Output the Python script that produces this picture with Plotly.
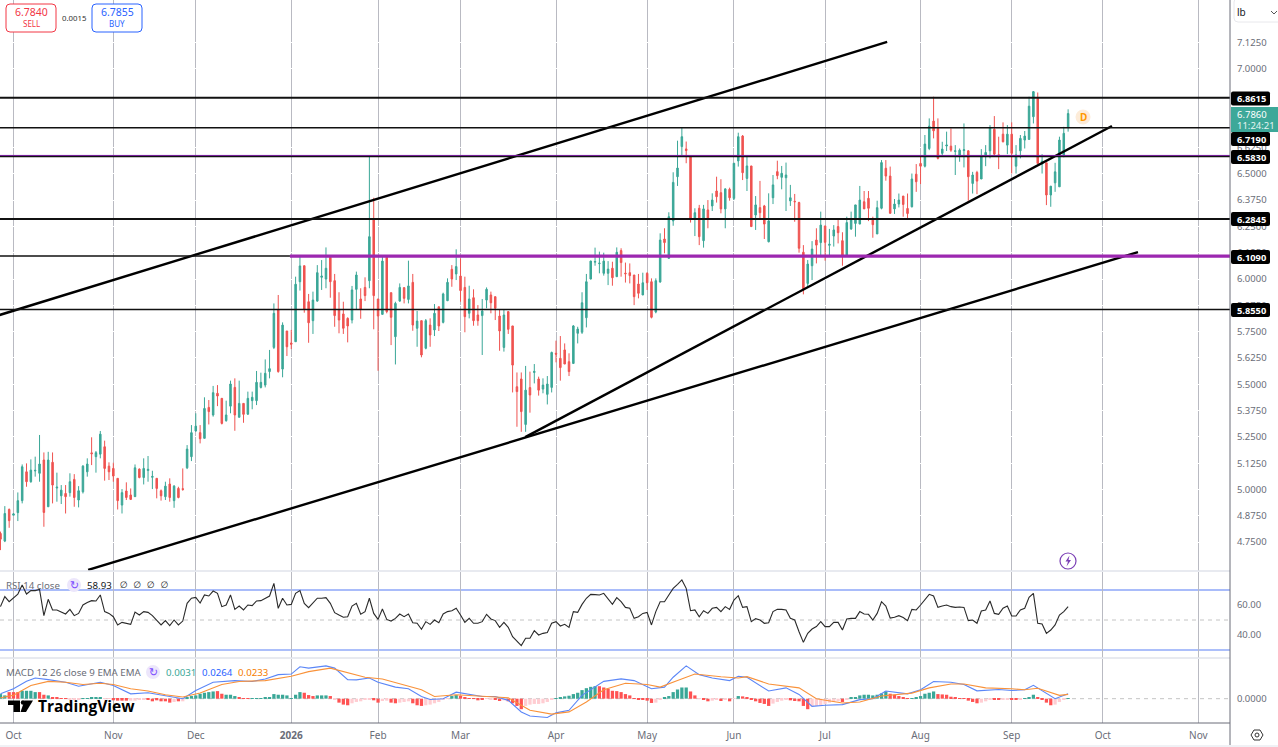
import plotly.graph_objects as go
from plotly.subplots import make_subplots

# ---------- data (daily bars) ----------
bar_index = list(range(-3, 244))
opens = [4.791,4.755,4.905,4.878,4.890,4.947,5.084,5.037,5.088,5.077,
5.140,4.918,5.129,5.007,4.970,4.981,4.985,5.048,4.950,4.989,
5.084,5.174,5.156,5.168,5.203,5.111,5.100,5.053,4.926,4.993,
4.974,4.966,5.097,5.057,5.090,5.058,5.053,4.994,4.966,5.026,
4.947,5.005,5.004,5.103,5.156,5.278,5.270,5.243,5.390,5.354,
5.457,5.433,5.327,5.396,5.485,5.343,5.409,5.358,5.422,5.422,
5.485,5.496,5.560,5.675,5.853,5.572,5.753,5.696,5.702,5.987,
6.063,5.892,5.802,5.895,6.008,6.000,6.103,5.992,5.853,5.834,
5.813,5.805,5.951,5.905,5.960,5.992,6.283,5.905,5.832,6.103,
5.935,5.726,5.895,5.959,5.903,5.984,5.766,5.802,5.671,5.781,
5.758,5.868,5.794,5.897,6.046,6.024,6.014,5.960,5.837,5.911,
5.829,5.826,5.900,5.924,5.916,5.824,5.675,5.845,5.777,5.488,
5.525,5.309,5.484,5.556,5.525,5.477,5.452,5.485,5.647,5.623,
5.663,5.607,5.599,5.742,5.747,5.816,6.000,6.080,6.073,6.027,
6.027,6.051,6.011,6.135,6.028,6.030,6.019,5.976,5.924,6.027,
5.987,5.843,5.986,6.190,6.098,6.276,6.486,6.629,6.618,6.581,
6.288,6.336,6.182,6.328,6.347,6.418,6.410,6.333,6.426,6.383,
6.561,6.679,6.478,6.537,6.304,6.339,6.347,6.177,6.386,6.510,
6.483,6.481,6.371,6.369,6.363,6.127,5.979,6.063,6.185,6.173,
6.252,6.160,6.204,6.249,6.182,6.114,6.238,6.264,6.261,6.367,
6.383,6.283,6.214,6.336,6.526,6.489,6.333,6.356,6.394,6.335,
6.343,6.498,6.549,6.536,6.620,6.750,6.715,6.597,6.632,6.631,
6.606,6.589,6.610,6.609,6.454,6.506,6.475,6.581,6.609,6.711,
6.590,6.688,6.636,6.688,6.536,6.609,6.660,6.663,6.771,6.858,
6.546,6.552,6.399,6.457,6.438,6.584,6.720]
highs = [4.800,4.921,4.910,4.888,4.986,5.119,5.124,5.143,5.156,5.259,
5.176,5.179,5.176,5.080,5.021,5.021,5.077,5.073,5.016,5.116,
5.148,5.248,5.183,5.278,5.232,5.129,5.127,5.053,5.002,5.034,
5.005,5.119,5.100,5.148,5.159,5.089,5.053,5.000,5.037,5.053,
5.021,5.013,5.100,5.211,5.306,5.362,5.306,5.438,5.425,5.492,
5.496,5.433,5.422,5.517,5.528,5.517,5.409,5.465,5.465,5.563,
5.555,5.618,5.663,5.884,5.924,5.794,5.753,5.758,6.011,6.106,
6.063,5.929,5.940,6.066,6.090,6.150,6.103,6.024,5.937,5.892,
5.818,5.967,6.035,5.956,6.008,6.581,6.386,5.905,6.106,6.106,
5.935,5.892,5.979,5.960,6.087,6.024,5.848,5.802,5.810,5.813,
5.881,5.868,5.935,6.003,6.066,6.141,6.098,6.011,5.968,5.951,
5.876,5.905,5.960,5.940,5.916,5.853,5.853,5.845,5.777,5.556,
5.556,5.587,5.560,5.596,5.536,5.528,5.539,5.655,5.707,5.729,
5.694,5.647,5.781,5.773,5.937,6.024,6.087,6.149,6.130,6.125,
6.085,6.082,6.150,6.146,6.078,6.074,6.019,6.024,6.030,6.032,
6.003,6.003,6.217,6.241,6.317,6.507,6.657,6.719,6.653,6.581,
6.336,6.352,6.352,6.375,6.407,6.486,6.474,6.431,6.434,6.550,
6.695,6.684,6.581,6.537,6.394,6.466,6.352,6.407,6.494,6.562,
6.537,6.553,6.447,6.404,6.367,6.161,6.090,6.180,6.241,6.320,
6.252,6.238,6.256,6.288,6.222,6.296,6.320,6.352,6.442,6.418,
6.418,6.296,6.372,6.565,6.565,6.534,6.380,6.406,6.394,6.406,
6.501,6.546,6.581,6.684,6.763,6.866,6.763,6.652,6.700,6.715,
6.636,6.620,6.739,6.612,6.509,6.514,6.617,6.636,6.731,6.774,
6.676,6.744,6.731,6.744,6.636,6.684,6.703,6.866,6.893,6.886,
6.593,6.552,6.441,6.552,6.676,6.723,6.806]
lows = [4.712,4.750,4.818,4.876,4.850,4.934,5.013,5.032,5.061,5.037,
4.823,4.918,4.934,4.942,4.931,4.886,4.966,4.918,4.915,4.981,
5.061,5.116,5.080,5.148,5.042,5.045,5.037,4.905,4.886,4.950,
4.950,4.966,5.053,5.024,5.037,5.002,4.958,4.947,4.950,4.942,
4.913,4.958,4.994,5.097,5.135,5.275,5.219,5.243,5.309,5.346,
5.396,5.309,5.322,5.362,5.279,5.343,5.317,5.354,5.381,5.401,
5.480,5.485,5.528,5.667,5.555,5.533,5.634,5.667,5.702,5.945,
5.840,5.697,5.739,5.892,5.948,5.956,5.911,5.773,5.742,5.739,
5.699,5.789,5.853,5.811,5.895,5.956,5.761,5.564,5.832,5.837,
5.686,5.594,5.892,5.884,5.884,5.754,5.678,5.628,5.666,5.678,
5.729,5.753,5.789,5.895,5.963,5.995,5.892,5.747,5.813,5.778,
5.778,5.639,5.861,5.837,5.805,5.659,5.655,5.739,5.461,5.298,
5.274,5.274,5.365,5.504,5.446,5.457,5.404,5.461,5.604,5.517,
5.596,5.539,5.596,5.694,5.739,5.770,5.998,6.063,6.027,6.016,
5.971,5.968,6.011,6.011,5.983,5.979,5.876,5.908,5.924,5.948,
5.813,5.837,5.982,6.122,6.098,6.253,6.442,6.589,6.550,6.268,
6.204,6.161,6.149,6.241,6.323,6.363,6.312,6.241,6.372,6.375,
6.534,6.470,6.418,6.249,6.233,6.288,6.190,6.174,6.356,6.474,
6.426,6.323,6.347,6.272,6.125,5.927,5.963,5.995,6.074,6.111,
6.087,6.114,6.154,6.169,6.063,6.114,6.233,6.201,6.261,6.333,
6.275,6.196,6.214,6.331,6.467,6.312,6.309,6.340,6.296,6.288,
6.340,6.414,6.451,6.530,6.612,6.668,6.568,6.585,6.608,6.604,
6.494,6.557,6.530,6.372,6.406,6.403,6.475,6.536,6.573,6.589,
6.522,6.649,6.593,6.501,6.501,6.573,6.620,6.663,6.739,6.549,
6.501,6.351,6.343,6.414,6.438,6.578,6.700]
closes = [4.764,4.886,4.852,4.884,4.947,5.108,5.037,5.092,5.091,5.121,
4.891,5.140,5.021,5.011,4.997,4.966,5.037,4.962,4.994,5.111,
5.121,5.170,5.175,5.263,5.100,5.084,5.064,4.947,4.985,4.962,
4.953,5.103,5.057,5.100,5.096,5.062,5.005,4.970,5.016,4.962,
5.016,4.962,5.000,5.192,5.270,5.301,5.241,5.385,5.370,5.460,
5.444,5.314,5.354,5.501,5.354,5.409,5.357,5.433,5.438,5.509,
5.509,5.552,5.574,5.837,5.560,5.781,5.678,5.690,5.975,6.062,
5.856,5.792,5.900,6.030,6.014,6.051,5.987,5.826,5.805,5.766,
5.777,5.948,6.019,5.857,5.921,6.201,5.921,5.824,6.085,5.845,
5.818,5.884,5.960,5.908,5.967,5.781,5.800,5.639,5.802,5.734,
5.837,5.777,5.929,5.984,6.000,6.059,5.945,5.821,5.905,5.802,
5.802,5.848,5.951,5.887,5.861,5.753,5.829,5.761,5.591,5.465,
5.370,5.472,5.449,5.561,5.472,5.496,5.501,5.651,5.643,5.579,
5.596,5.560,5.777,5.762,5.887,5.987,6.085,6.083,6.075,6.085,
6.047,6.006,6.127,6.078,6.025,6.016,5.916,5.932,5.982,5.982,
5.818,5.992,6.185,6.173,6.296,6.459,6.527,6.676,6.610,6.288,
6.315,6.201,6.333,6.288,6.375,6.391,6.333,6.428,6.386,6.550,
6.676,6.505,6.537,6.249,6.352,6.315,6.261,6.276,6.447,6.491,
6.502,6.494,6.386,6.367,6.146,5.948,6.071,6.142,6.161,6.256,
6.174,6.165,6.233,6.220,6.114,6.268,6.280,6.352,6.375,6.333,
6.336,6.258,6.339,6.553,6.489,6.312,6.356,6.375,6.354,6.311,
6.475,6.462,6.536,6.641,6.726,6.704,6.573,6.617,6.636,6.612,
6.609,6.612,6.614,6.486,6.494,6.465,6.581,6.601,6.720,6.593,
6.587,6.652,6.688,6.597,6.589,6.668,6.679,6.821,6.890,6.549,
6.560,6.399,6.441,6.509,6.660,6.692,6.786]
rsi = [58.9,65.6,62.2,64.5,67.3,73.3,67.3,69.6,69.6,70.4,
52.9,63.8,56.7,56.7,55.6,54.0,57.1,52.9,54.4,60.0,
61.6,62.9,62.7,66.7,55.6,54.4,52.2,46.7,48.4,47.8,
47.1,55.3,53.3,55.6,55.1,52.9,49.6,46.7,49.6,46.2,
50.0,46.7,49.3,61.1,64.5,65.1,61.3,66.7,66.0,69.3,
67.8,58.9,60.0,66.7,57.1,59.3,56.7,60.0,59.6,62.7,
62.9,64.5,66.0,74.4,57.8,64.5,60.0,60.4,67.8,69.6,
61.1,58.2,61.6,64.5,64.5,64.9,61.1,54.9,53.3,51.8,
52.2,59.3,61.1,53.8,55.6,64.5,54.4,50.4,57.3,50.4,
49.3,51.1,54.0,52.2,54.0,48.2,47.8,43.8,
48.9,47.1,50.0,48.2,54.0,55.6,56.2,57.8,53.3,48.4,
51.1,47.8,47.8,48.9,53.8,50.7,49.6,45.1,48.4,45.1,
38.9,35.6,32.9,37.8,37.8,42.9,40.0,41.1,41.6,47.8,
48.9,46.0,47.1,45.1,55.6,55.1,60.4,64.5,67.1,66.9,
66.7,67.8,63.8,60.4,64.9,62.2,58.4,57.8,51.1,52.2,
54.4,55.1,46.7,55.6,62.2,62.2,66.7,71.1,73.8,76.7,
71.1,56.2,56.7,52.2,56.2,54.4,57.8,58.4,55.6,58.9,
57.1,63.3,66.2,58.4,58.9,48.9,50.9,50.0,47.8,48.2,
55.6,57.1,57.1,56.7,51.1,50.0,42.2,35.1,41.1,44.0,
45.6,48.9,45.6,45.6,48.4,48.4,
43.3,50.7,51.1,51.1,55.6,54.0,53.8,50.0,54.4,62.2,
59.3,51.3,51.8,52.9,51.6,49.6,57.1,56.7,60.0,63.8,
67.1,66.0,58.4,59.3,60.0,58.9,58.4,58.7,58.4,49.6,
50.0,47.8,56.0,56.7,62.7,54.4,53.8,57.8,59.3,52.7,
52.7,56.7,57.8,65.1,67.8,47.8,47.3,41.1,43.3,46.7,
53.3,55.6,58.93]
macd_index = [-3,0,3,5,8,12,15,18,20,23,27,31,35,39,42,46,51,55,58,61,64,66,68,72,74,77,79,82,84,88,91,94,
96,99,102,105,108,111,114,117,119,123,125,128,131,136,140,143,147,150,152,155,158,161,165,167,169,174,178,181,184,187,191,
195,198,201,206,209,212,216,219,222,224,227,230,233,235,240,243]
macd_line = [.026,.053,.093,.111,.102,.088,.067,.079,.088,.071,.026,.032,.018,0,.044,.088,.097,.092,.106,.129,.132,.171,.164,.176,.164,.102,.101,.111,.088,.062,.053,.012,
-.004,0,.035,.023,.012,.012,-.009,-.071,-.093,-.101,-.076,-.062,.018,.093,.106,.097,.053,.062,.115,.176,.129,.111,.097,.120,.115,.041,.058,.023,-.041,-.035,-.032,
-.005,0,.041,.026,.048,.092,.088,.076,.042,.044,.049,.044,.048,.072,0,.0264]
signal_index = [-3,0,4,8,12,16,20,23,27,31,35,39,43,48,52,58,64,68,73,77,81,85,89,94,
97,102,107,114,119,124,128,132,136,141,146,149,153,157,163,167,169,174,181,185,191,
195,200,207,211,216,219,224,230,233,236,241,243]
signal_line = [.005,.018,.071,.093,.088,.076,.083,.076,.053,.041,.021,.009,.030,.076,.092,.097,.120,.145,.164,.141,.115,.106,.079,.048,
.012,.021,.014,.005,-.062,-.083,-.071,-.018,.048,.083,.076,.062,.097,.132,.118,.111,.118,.079,.058,0,-.023,
-.018,.014,.030,.058,.079,.079,.058,.053,.048,.056,.018,.0233]
hist = [.0247,.0176,.0353,.0353,.0353,.0423,.0423,.0423,.0353,.0353,
.0212,.0176,.0088,.0088,.0035,.0018,-.0035,-.0018,-.0035,.0018,
.0035,.0071,.0088,.0088,.0035,.0018,-.0088,-.0106,-.0106,-.0106,
-.0106,-.0106,-.0071,-.0053,-.0053,-.0141,-.0088,-.0141,-.0141,-.0212,
-.0176,-.0141,-.0141,.0053,.0141,.0176,.0265,.0318,.0353,.0388,
.0406,.0265,.0212,.0212,.0141,.0053,.0035,.0018,.0018,.0035,
.0035,.0053,.0071,.0247,.0212,.0212,.0176,.0035,.0212,.0353,
.0318,.0194,.0141,.0176,.0176,.0176,.0141,-.0035,-.0212,-.0318,
-.0353,-.0247,-.0176,-.0141,-.0071,-.0018,-.0088,-.0212,-.0123,-.0106,
-.0212,-.0247,-.0212,-.0176,-.0141,-.0247,-.0353,-.0388,-.0353,-.0318,
-.0247,-.0176,-.0071,.0035,.0141,.0194,.0159,.0053,.0035,.0018,
-.0088,-.0035,.0018,-.0018,-.0053,-.0123,-.0088,-.0141,-.0247,-.0388,
-.0564,-.0388,-.0318,-.0282,-.0282,-.0247,-.0176,-.0053,.0035,.0088,
.0123,.0159,.0247,.0318,.0459,.0564,.0635,.067,.067,.06,
.0529,.0423,.0406,.0353,.0247,.0176,.0035,-.0035,-.0071,-.0106,
-.0229,-.0212,-.0053,.0053,.0141,.0353,.0494,.06,.06,.0388,
.0176,.0035,-.0035,-.0141,-.0106,-.0053,-.0123,-.0071,-.0141,.0018,
.0141,.0123,.0071,-.0053,-.0141,-.0229,-.0282,-.0388,-.0265,-.0176,
-.0106,-.0018,-.0088,-.0123,-.0141,-.0388,-.0564,-.0423,-.0388,-.0353,
-.0282,-.0212,-.0176,-.0141,-.0176,-.0035,.0053,.0053,.0176,.0212,
.0212,.0176,.0212,.0282,.0388,.0265,.0212,.0141,.0071,.0035,
.0035,.0088,.0141,.0265,.0318,.0388,.0247,.0229,.0212,.0106,
.0071,.0035,.0018,-.0106,-.0176,-.0247,-.0212,-.0141,-.0053,-.0053,
-.0035,-.0018,-.0018,-.0053,-.0053,-.0018,.0018,.0088,.0212,.0053,
-.0071,-.0212,-.0353,-.0318,-.0176,-.0071,.0031]
hist_kind = ("ttrrrttttr" "rtrrrrpppt" "ttttpprrrr" "pppprrrrrr" "prpttttttt" "rrtttrrrtt" "tttttttttt"
             "rrrtttrprr" "rppppprrpp" "rrppprrrpp" "ppppttrrrr" "rrpprrprrr" "rppppppptt" "ttttttttrr"
             "rrrrrrrrrr" "rppttttttr" "rprrpprprp" "trrrrrrrpp" "pprrrrrppp" "pppprptttt" "tttttrrrrr"
             "ttttttrrrr" "rrrrrrpppr" "rpprrptttr" "rrrpppt")
assert all(len(s) == len(bar_index) for s in (opens, highs, lows, closes, rsi, hist, hist_kind))

month_index = [0, 23, 42, 64, 84, 103, 125, 146, 166, 187, 209, 230, 251, 273]
month_labels = ["Oct", "Nov", "Dec", "<b>2026</b>", "Feb", "Mar", "Apr", "May", "Jun", "Jul", "Aug", "Sep", "Oct", "Nov"]
price_ticks = [4.75, 4.875, 5.0, 5.125, 5.25, 5.375, 5.5, 5.625, 5.75, 5.875, 6.0, 6.125, 6.25, 6.375, 6.5, 6.625, 7.0, 7.125]
black_levels = [6.8615, 6.719, 6.583, 6.2845, 5.855]
purple_level = 6.109
level_split_index = 63.7
thin_purple_level = 6.587
trend_a_x, trend_a_y = [-3.2, 201.3], [5.829, 7.126]
trend_b_x, trend_b_y = [117.9, 253.1], [5.249, 6.727]
trend_c_x, trend_c_y = [17.2, 259.1], [4.618, 6.128]
rsi_upper, rsi_mid, rsi_lower = 70, 50, 30

# ---------- layout geometry ----------
W, H = 1278, 747
PW, PH = 1230, 723
X_RANGE = [-3.11, 280.3]
TEAL, RED, PINK = "#3aa797", "#ef5350", "#ffcdd2"
HIST_BAR = {"t": "#3aa797", "r": "#ff5252", "p": "#ffcdd2"}
GREY = "#6a6d78"
FONT = "Noto Sans"

def px(x): return x / PW
def py(y): return 1 - y / PH

fig = make_subplots(rows=3, cols=1, shared_xaxes=True, vertical_spacing=0)

fig.add_trace(go.Candlestick(x=bar_index, open=opens, high=highs, low=lows, close=closes,
    increasing=dict(line=dict(color=TEAL, width=1), fillcolor=TEAL),
    decreasing=dict(line=dict(color=RED, width=1), fillcolor=RED),
    whiskerwidth=0, hoverinfo="skip"), row=1, col=1)
for tx, ty in ((trend_a_x, trend_a_y), (trend_b_x, trend_b_y), (trend_c_x, trend_c_y)):
    fig.add_trace(go.Scatter(x=tx, y=ty, mode="lines", line=dict(color="#000000", width=2.4), hoverinfo="skip"), row=1, col=1)

fig.add_trace(go.Scatter(x=bar_index, y=rsi, mode="lines", line=dict(color="#2a2a2a", width=1.1), hoverinfo="skip"), row=2, col=1)

fig.add_trace(go.Bar(x=bar_index, y=hist, marker=dict(color=[HIST_BAR[k] for k in hist_kind], line_width=0), hoverinfo="skip"), row=3, col=1)
fig.add_trace(go.Scatter(x=macd_index, y=macd_line, mode="lines", line=dict(color="#5b86f7", width=1.1), hoverinfo="skip"), row=3, col=1)
fig.add_trace(go.Scatter(x=signal_index, y=signal_line, mode="lines", line=dict(color="#f9923a", width=1.1), hoverinfo="skip"), row=3, col=1)

shapes, annos = [], []

def hline(y, color, width, yref="y", x0=X_RANGE[0], x1=X_RANGE[1], dash=None, layer="above"):
    shapes.append(dict(type="line", xref="x", yref=yref, x0=x0, x1=x1, y0=y, y1=y, layer=layer,
                       line=dict(color=color, width=width, dash=dash)))

for lv, w in zip(black_levels, [2, 1.5, 2, 2, 1.5]):
    hline(lv, "#111111", w)
hline(thin_purple_level, "#7b1fa2", 1)
hline(purple_level, "#111111", 1.6, x1=level_split_index)
hline(purple_level, "#9c27b0", 3.2, x0=level_split_index)
hline(rsi_upper, "#a9bcfa", 2, yref="y2", layer="below")
hline(rsi_lower, "#5a80f6", 1.2, yref="y2", layer="below")
hline(rsi_mid, "#c4c4c4", 1, yref="y2", dash="4px,4px", layer="below")
hline(0, "#c4c4c4", 1, yref="y3", dash="4px,4px", layer="below")

def rect(x0, y0, x1, y1, fill, line=None, lw=0, r=0):
    a, b, c, d = x0, x1, y0, y1
    if r:
        p = (f"M {px(a+r)} {py(c)} L {px(b-r)} {py(c)} Q {px(b)} {py(c)} {px(b)} {py(c+r)} "
             f"L {px(b)} {py(d-r)} Q {px(b)} {py(d)} {px(b-r)} {py(d)} L {px(a+r)} {py(d)} "
             f"Q {px(a)} {py(d)} {px(a)} {py(d-r)} L {px(a)} {py(c+r)} Q {px(a)} {py(c)} {px(a+r)} {py(c)} Z")
    else:
        p = f"M {px(a)} {py(c)} L {px(b)} {py(c)} L {px(b)} {py(d)} L {px(a)} {py(d)} Z"
    shapes.append(dict(type="path", xref="paper", yref="paper", path=p, fillcolor=fill, layer="above",
                       line=dict(color=line or "rgba(0,0,0,0)", width=lw)))

def seg(x0, y0, x1, y1, color, w):
    shapes.append(dict(type="line", xref="paper", yref="paper", x0=px(x0), x1=px(x1), y0=py(y0), y1=py(y1),
                       layer="above", line=dict(color=color, width=w)))

def circle(cx, cy, r, fill, line=None, lw=0):
    shapes.append(dict(type="circle", xref="paper", yref="paper", x0=px(cx - r), x1=px(cx + r), y0=py(cy - r), y1=py(cy + r),
                       fillcolor=fill, layer="above", line=dict(color=line or "rgba(0,0,0,0)", width=lw)))

def poly(points, fill, line=None, lw=0):
    p = "M " + " L ".join(f"{px(a)} {py(b)}" for a, b in points) + " Z"
    shapes.append(dict(type="path", xref="paper", yref="paper", path=p, fillcolor=fill, layer="above",
                       line=dict(color=line or "rgba(0,0,0,0)", width=lw)))

def txt(x, y, s, size=10, color=GREY, anchor="left", family=FONT):
    annos.append(dict(xref="paper", yref="paper", x=px(x), y=py(y), text=s, showarrow=False, xanchor=anchor, yanchor="middle",
                      font=dict(size=size, color=color, family=family), borderpad=0, borderwidth=0))

# pane frames
seg(0, 571, PW, 571, "#e0e3eb", 1.5)
seg(0, 658, PW, 658, "#e0e3eb", 1.5)
seg(0, 723, PW, 723, "#6a6d78", 1)
seg(PW, 0, PW, 745, "#6a6d78", 1)
seg(0, 746, W, 746, "#e0e3eb", 1)

# trade buttons
rect(6, 4, 56, 32, "#ffffff", "#f23645", 1, 4)
rect(92, 4, 142, 32, "#ffffff", "#2962ff", 1, 4)
txt(31, 12, "6.7840", 10.5, "#f23645", "center")
txt(31, 23, "SELL", 8, "#f23645", "center")
txt(74, 18, "0.0015", 7.8, "#333333", "center")
txt(117, 12, "6.7855", 10.5, "#2962ff", "center")
txt(117, 23, "BUY", 8, "#2962ff", "center")

# price flags
for yc, label in [(98.5, "6.8615"), (139, "6.7190"), (157, "6.5830"), (219, "6.2845"), (257, "6.1090"), (310, "5.8550")]:
    rect(1231, yc - 7, 1270, yc + 7, "#000000", r=2)
    txt(1237, yc, f"<b>{label}</b>", 9.3, "#ffffff")
rect(1231, 107, 1278, 132, "#3da899")
txt(1237, 114, "6.7860", 9.5, "#ffffff")
txt(1237, 125, "11:24:21", 9.5, "#e4f4f1")

# top right unit
rect(1234, -2, 1290, 22, "#ffffff", "#e8e8ec", 1, 4)
txt(1237, 12, "lb", 10, "#131722")
shapes.append(dict(type="path", xref="paper", yref="paper", layer="above",
                   path=f"M {px(1271)} {py(11)} L {px(1274)} {py(14)} L {px(1277)} {py(11)}",
                   line=dict(color="#555555", width=1)))

# pane legends
txt(6, 585, "RSI 14 close", 9.7, GREY)
circle(74, 585, 7, "#ece6fb")
txt(74, 585, "↻", 11, "#7c4dff", "center", "DejaVu Sans")
txt(87, 585, "58.93", 9.7, "#131722")
txt(120, 585, "∅  ∅  ∅  ∅", 9, "#131722", "left", "DejaVu Sans")
txt(6, 672, "MACD 12 26 close 9 EMA EMA", 9.7, GREY)
circle(153, 672, 7, "#ece6fb")
txt(153, 672, "↻", 11, "#7c4dff", "center", "DejaVu Sans")
txt(166, 672, "0.0031", 9.7, "#3aa797")
txt(202, 672, "0.0264", 9.7, "#2962ff")
txt(238, 672, "0.0233", 9.7, "#f57c00")

# logo
poly([(8, 700.5), (20, 700.5), (20, 712), (13.5, 712), (13.5, 705), (8, 705)], "#000000")
circle(23, 702.5, 2.2, "#000000")
poly([(24.5, 700.5), (33, 700.5), (26, 712), (20.5, 712)], "#000000")
txt(38, 706, "<b>TradingView</b>", 15.6, "#000000", "left", "Open Sans")

# markers near last bar
circle(1083, 117, 7.5, "#fdecd9")
txt(1083, 117, "<b>D</b>", 10, "#ff9800", "center")
circle(1068, 561, 8, "#ffffff", "#7b3fb5", 1.2)
poly([(1069.5, 555.5), (1065.5, 561.5), (1068, 561.5), (1066.5, 566.5), (1071, 560), (1068.5, 560)], "#7b3fb5")

# settings glyph
poly([(1251, 735), (1254, 730), (1260, 730), (1263, 735), (1260, 740), (1254, 740)], "rgba(0,0,0,0)", "#333333", 1)
circle(1257, 735, 2, "rgba(0,0,0,0)", "#333333", 1)

axis_common = dict(range=X_RANGE, tickmode="array", tickvals=month_index, showgrid=True, gridcolor="#b9bac2", gridwidth=1,
                   zeroline=False, showline=False, ticks="")
fig.update_layout(
    width=W, height=H, margin=dict(l=0, r=W - PW, t=0, b=H - PH, autoexpand=False),
    paper_bgcolor="#ffffff", plot_bgcolor="#ffffff", showlegend=False, bargap=0.25, boxgap=0.5,
    shapes=shapes, annotations=annos, hovermode=False,
    font=dict(family=FONT, size=10, color=GREY),
)
fig.update_xaxes(**axis_common)
fig.update_xaxes(rangeslider_visible=False, showticklabels=False, row=1, col=1)
fig.update_xaxes(showticklabels=False, row=2, col=1)
fig.update_xaxes(showticklabels=True, ticktext=month_labels, tickfont=dict(size=10, color=GREY, family=FONT),
                 ticks="outside", ticklen=3, tickcolor="rgba(0,0,0,0)", row=3, col=1)

y_common = dict(side="right", showline=False, zeroline=False, tickfont=dict(size=9.5, color=GREY, family=FONT),
                ticks="outside", ticklen=4, tickcolor="rgba(0,0,0,0)")
fig.update_layout(
    yaxis=dict(domain=[1 - 571 / PH, 1], range=[4.6128, 7.3254], tickmode="array", tickvals=price_ticks,
               ticktext=[f"{v:.4f}" for v in price_ticks], showgrid=True, gridcolor="#ffffff", **y_common),
    yaxis2=dict(domain=[1 - 658 / PH, 1 - 572 / PH], range=[24.67, 82], tickmode="array", tickvals=[40, 60],
                ticktext=["40.00", "60.00"], showgrid=False, **y_common),
    yaxis3=dict(domain=[0, 1 - 659 / PH], range=[-0.1304, 0.2128], tickmode="array", tickvals=[0],
                ticktext=["0.0000"], showgrid=False, **y_common),
)

fig.write_html("out.html", config=dict(displayModeBar=False, responsive=False),
               post_script="document.body.style.margin='0';document.body.style.overflow='hidden';")
